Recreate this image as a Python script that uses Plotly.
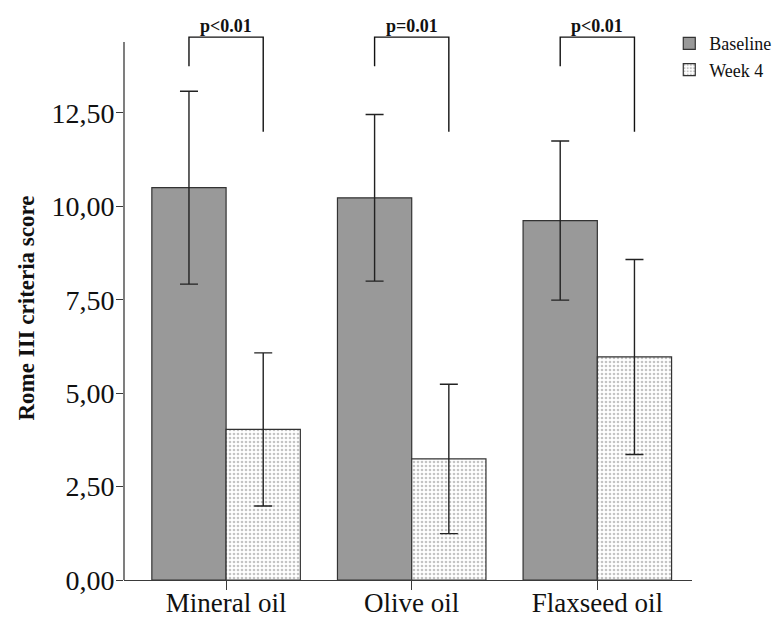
import plotly.graph_objects as go

categories = ["Mineral oil", "Olive oil", "Flaxseed oil"]
baseline = [10.50, 10.23, 9.62]
baseline_err = [2.58, 2.23, 2.13]
week4 = [4.03, 3.24, 5.97]
week4_err = [2.05, 2.00, 2.61]
p_labels = ["p<0.01", "p=0.01", "p<0.01"]
y_tickvals = [0, 2.5, 5, 7.5, 10, 12.5]
y_ticktext = ["0,00", "2,50", "5,00", "7,50", "10,00", "12,50"]

FONT = "Liberation Serif, Times New Roman, serif"
AX = "#3a3a3a"

fig = go.Figure()
fig.add_trace(go.Bar(
    name="Baseline", x=categories, y=baseline,
    marker=dict(color="#999999", line=dict(color="#333333", width=1.2)),
    error_y=dict(type="data", array=baseline_err, color="#222222", thickness=1.4, width=9),
))
fig.add_trace(go.Bar(
    name="Week 4", x=categories, y=week4,
    marker=dict(color="white", line=dict(color="#333333", width=1.2),
                pattern=dict(shape=".", size=4, solidity=0.35, fgcolor="#8a8a8a", bgcolor="white")),
    error_y=dict(type="data", array=week4_err, color="#222222", thickness=1.4, width=9),
))

y_top = 14.4
br_top = 14.53
left_leg = 13.75
right_leg = 12.0
shapes = []
annotations = []
for i, lab in enumerate(p_labels):
    xl, xr = i - 0.2, i + 0.2
    shapes.append(dict(type="path", xref="x", yref="y",
                       path=f"M {xl},{left_leg} L {xl},{br_top} L {xr},{br_top} L {xr},{right_leg}",
                       line=dict(color="#111111", width=1.4)))
    annotations.append(dict(x=i, y=br_top, xref="x", yref="y", text=f"<b>{lab}</b>",
                            showarrow=False, yanchor="bottom", yshift=-1,
                            font=dict(family=FONT, size=18, color="#111111")))

# y axis line drawn up to the top of the axis
shapes.append(dict(type="line", xref="paper", yref="y", x0=0, x1=0, y0=0, y1=y_top,
                   line=dict(color=AX, width=1.3)))

fig.update_layout(
    width=800, height=619,
    margin=dict(l=116, r=116, t=28, b=47),
    paper_bgcolor="white", plot_bgcolor="white",
    barmode="group", bargap=0.2, bargroupgap=0,
    font=dict(family=FONT, size=20, color="#111111"),
    showlegend=True,
    legend=dict(x=0.960, y=1.02, xanchor="left", yanchor="top",
                font=dict(family=FONT, size=18, color="#111111"),
                bgcolor="rgba(0,0,0,0)", tracegroupgap=0),
    shapes=shapes, annotations=annotations,
    xaxis=dict(type="category", range=[-0.55, 2.51], showline=True, linecolor=AX, linewidth=1.3,
               ticks="outside", ticklen=9, tickcolor=AX, tickwidth=1.3, showgrid=False, zeroline=False,
               automargin=False, ticklabelstandoff=-11,
               tickfont=dict(family=FONT, size=27, color="#111111")),
    yaxis=dict(range=[0, 14.56], showline=False, tickvals=y_tickvals, ticktext=y_ticktext,
               ticks="outside", ticklen=7, tickcolor=AX, tickwidth=1.3, showgrid=False, zeroline=False,
               automargin=False, ticklabelstandoff=-4,
               tickfont=dict(family=FONT, size=28, color="#111111"),
               title=dict(text="<b>Rome III criteria score</b>", standoff=10,
                          font=dict(family=FONT, size=23, color="#111111"))),
)

fig.write_html("out.html")
